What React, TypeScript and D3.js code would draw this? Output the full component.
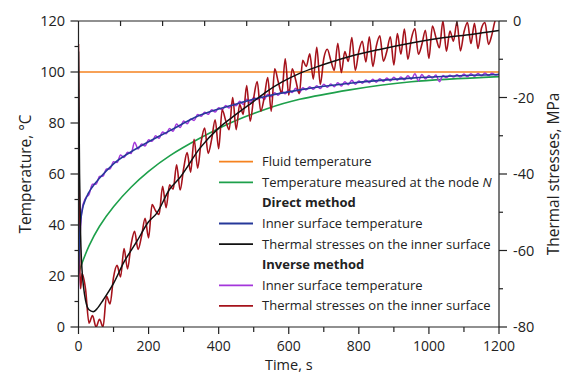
import React from "react";
import * as d3 from "d3";

// ---- data ----
const fluidTemp: [number, number][] = [[0, 100], [1200, 100]];

const nodeTemp: [number, number][] = [
  [0, 21], [10, 25], [30, 31.8], [60, 39.5], [100, 47.2], [150, 54.8], [200, 61], [261, 67.2],
  [346, 74], [441, 80.5], [536, 85.5], [631, 89.3], [774, 93], [950, 96.2], [1200, 98.2],
];

const directTemp: [number, number][] = [
  [0, 21], [3, 35], [9, 44.6], [23, 51], [40, 55], [61, 58.5], [100, 64], [166, 70], [261, 77],
  [346, 83], [441, 87.1], [536, 90.5], [631, 93], [774, 95.6], [950, 97.6], [1200, 99],
];

const directStress: [number, number][] = [
  [0, -8], [3, -40], [6, -56], [10, -65], [15, -70], [20, -73], [30, -75.5], [42, -76], [55, -75],
  [70, -73], [100, -68.6], [130, -63], [166, -57.7], [200, -52.5], [223, -50.3], [260, -44],
  [289, -41], [346, -33.3], [400, -28], [441, -25], [500, -21], [536, -18.5], [580, -16],
  [631, -13.7], [680, -12], [726, -10.6], [774, -9.3], [856, -7.5], [950, -5.75], [1045, -4.3],
  [1120, -3.5], [1200, -2.5],
];

const inverseStart: [number, number][] = [[0, 15], [3, 30]];
const inverseTempValues = [
  46, 50.5, 52, 56, 56, 59, 59.2, 62, 62, 64.8,
  64.5, 67.5, 66.5, 68.5, 68, 72.5, 69.8, 71.8, 71, 73.4,
  72.8, 75, 74, 76.5, 75.8, 77.8, 76.8, 79.6, 78.2, 80.8,
  79.7, 81.6, 81, 83.3, 82.6, 84.2, 83.4, 85.2, 84.3, 86,
  85.2, 86.9, 85.9, 87.8, 86.8, 88.5, 87.3, 89.3, 88, 90,
  89.2, 90.5, 89.2, 91.3, 90.3, 91.9, 90.9, 92.5, 91.5, 93,
  92, 93.6, 91.8, 93.8, 93, 94.2, 93.2, 94.6, 93.5, 95.2,
  94, 95.3, 94.2, 95.8, 94.5, 96.2, 95, 96.8, 95.2, 96.5,
  95.6, 96.9, 95.8, 97.2, 96, 97.4, 96.3, 97.6, 96.5, 97.9,
  96.8, 98, 97, 98.5, 97.2, 99.3, 96.5, 99, 97.3, 98.6,
  97.6, 98.8, 96.2, 98.6, 97.8, 98.7, 98, 98.9, 98, 99.2,
  98.1, 99.3, 98.3, 99.4, 98.5, 99.6, 98.6, 99.5, 98.8, 99.3,
];

const inverseStressStart: [number, number][] = [[0, -6], [3, -60], [6, -70]];
const inverseStressValues = [
  -66, -70, -79, -77, -80, -78, -80, -72, -74, -67,
  -63.9, -66.9, -59.5, -64.8, -58.5, -55, -59.7, -56.2, -51.6, -56.7,
  -48, -49.6, -50.6, -43.2, -48.8, -42.8, -44, -37.6, -44.2, -38.6,
  -34.4, -39.5, -30.9, -38.5, -31.6, -28, -34.6, -30.9, -25.8, -33.4,
  -23.2, -26, -28.4, -20, -28.4, -21.8, -24.4, -16.9, -26.2, -20.1,
  -15.8, -23.6, -20, -14.8, -23.6, -12.5, -15.9, -18.9, -9.9, -19.4,
  -12.5, -15.5, -19, -10.3, -11.9, -8.6, -15.2, -6.9, -16.6, -9.8,
  -7.4, -10.3, -12.9, -5.8, -13.5, -8, -10.6, -4.3, -12.9, -7.9,
  -5.3, -10.7, -4.1, -11.9, -6.5, -3.9, -10.5, -7.9, -4.1, -11.5,
  -3.3, -8.7, -2.1, -10, -4.6, -2, -8.7, -6.1, -2.4, -9.8,
  -1.3, -4.3, -7, 0, -7.9, -2.6, -5.3, -0.3, -7.8, -2.9,
  -0.4, -5.9, -0.6, -7.2, -1.9, -0.4, -6.1, -3.5, 0.2, 0.5,
];

const xTicks = [0, 200, 400, 600, 800, 1000, 1200];
const tempTicks = [0, 20, 40, 60, 80, 100, 120];
const stressTicks = [0, -20, -40, -60, -80];

const legendItems = [
  { label: "Fluid temperature", color: "#F5821F", bold: false },
  { label: "Temperature measured at the node ", italic: "N", color: "#1EA04B", bold: false },
  { label: "Direct method", color: null, bold: true },
  { label: "Inner surface temperature", color: "#26399A", bold: false },
  { label: "Thermal stresses on the inner surface", color: "#111111", bold: false },
  { label: "Inverse method", color: null, bold: true },
  { label: "Inner surface temperature", color: "#A436DB", bold: false },
  { label: "Thermal stresses on the inner surface", color: "#A5121B", bold: false },
];

// ---- layout ----
const W = 570, H = 374;
const L = 78.5, R = 499, T = 21, B = 327;
const FONT = "'Open Sans', 'Noto Sans', sans-serif";
const TXT = "#222";

export default function App() {
  const x = d3.scaleLinear().domain([0, 1200]).range([L, R]);
  const yT = d3.scaleLinear().domain([0, 120]).range([B, T]);
  const yS = d3.scaleLinear().domain([-80, 0]).range([B, T]);

  const lineT = d3.line<[number, number]>().x(d => x(d[0])).y(d => yT(d[1])).curve(d3.curveMonotoneX);
  const lineTN = d3.line<[number, number]>().x(d => x(d[0])).y(d => yT(d[1])).curve(d3.curveNatural);
  const lineS = d3.line<[number, number]>().x(d => x(d[0])).y(d => yS(d[1])).curve(d3.curveMonotoneX);
  const lineTL = d3.line<[number, number]>().x(d => x(d[0])).y(d => yT(d[1]));

  const invTemp: [number, number][] = [
    ...inverseStart,
    ...inverseTempValues.map((v, i) => [10 * (i + 1), v] as [number, number]),
  ];
  const invStress: [number, number][] = [
    ...inverseStressStart,
    ...inverseStressValues.map((v, i) => [10 * (i + 1), v] as [number, number]),
  ];

  const minorX = d3.range(100, 1200, 200);
  const topX = d3.range(120, 1200, 120);
  const minorT = d3.range(10, 120, 20);
  const minorS = d3.range(-10, -80, -20);

  const legX1 = 219, legX2 = 253, legTx = 262;
  const legY0 = 161.7, legDy = 20.6;

  return (
    <svg width={W} height={H} style={{ position: "absolute", left: 0, top: 0, background: "#fff" }}
      fontFamily={FONT}>
      <defs>
        <clipPath id="plot">
          <rect x={L} y={T} width={R - L} height={B - T} />
        </clipPath>
      </defs>
      <rect x={0} y={0} width={W} height={H} fill="#fff" />

      <g clipPath="url(#plot)" fill="none" strokeLinejoin="round">
        <path d={lineTL(fluidTemp) || ""} stroke="#F5821F" strokeWidth={1.6} />
        <path d={lineTN(nodeTemp) || ""} stroke="#1EA04B" strokeWidth={1.6} />
        <path d={lineT(invTemp) || ""} stroke="#A436DB" strokeWidth={1.5} />
        <path d={lineS(invStress) || ""} stroke="#A5121B" strokeWidth={1.6} />
        <path d={lineT(directTemp) || ""} stroke="#26399A" strokeWidth={1.6} />
        <path d={lineS(directStress) || ""} stroke="#111111" strokeWidth={1.5} />
      </g>

      {/* frame */}
      <g stroke="#222" strokeWidth={1.2} fill="none">
        <line x1={L} y1={T} x2={L} y2={B} />
        <line x1={R} y1={T} x2={R} y2={B} />
        <line x1={L} y1={B} x2={R} y2={B} />
        <line x1={L} y1={T} x2={R} y2={T} />
      </g>

      {/* ticks */}
      <g stroke="#222" strokeWidth={1.2}>
        {tempTicks.map(v => <line key={"lt" + v} x1={L - 8} x2={L} y1={yT(v)} y2={yT(v)} />)}
        {minorT.map(v => <line key={"lm" + v} x1={L - 4} x2={L} y1={yT(v)} y2={yT(v)} />)}
        {stressTicks.map(v => <line key={"rt" + v} x1={R} x2={R + 8} y1={yS(v)} y2={yS(v)} />)}
        {minorS.map(v => <line key={"rm" + v} x1={R} x2={R + 4} y1={yS(v)} y2={yS(v)} />)}
        {xTicks.map(v => <line key={"bt" + v} x1={x(v)} x2={x(v)} y1={B} y2={B + 7} />)}
        {minorX.map(v => <line key={"bm" + v} x1={x(v)} x2={x(v)} y1={B} y2={B + 5} />)}
        {topX.map(v => <line key={"tt" + v} x1={x(v)} x2={x(v)} y1={T} y2={T + 5} />)}
      </g>

      {/* tick labels */}
      <g fill={TXT} fontSize={14.5}>
        {tempTicks.map(v => (
          <text key={"ltl" + v} x={65} y={yT(v)} dy="0.36em" textAnchor="end">{v}</text>
        ))}
        {stressTicks.map(v => (
          <text key={"rtl" + v} x={513} y={yS(v)} dy="0.36em" textAnchor="start">{v}</text>
        ))}
        {xTicks.map(v => (
          <text key={"btl" + v} x={x(v)} y={351} fontSize={14} textAnchor="middle">{v}</text>
        ))}
      </g>

      {/* axis titles */}
      <g fill={TXT} fontSize={15.5}>
        <text transform={`translate(31,${(T + B) / 2}) rotate(-90)`} textAnchor="middle">Temperature, °C</text>
        <text transform={`translate(559,${(T + B) / 2}) rotate(-90)`} textAnchor="middle">Thermal stresses, MPa</text>
        <text x={(L + R) / 2} y={370} textAnchor="middle" fontSize={14.5}>Time, s</text>
      </g>

      {/* legend */}
      <g fontSize={13} fill={TXT}>
        {legendItems.map((it, i) => {
          const y = legY0 + i * legDy;
          return (
            <g key={"leg" + i}>
              {it.color && <line x1={legX1} x2={legX2} y1={y} y2={y} stroke={it.color} strokeWidth={1.8} />}
              <text x={legTx} y={y} dy="0.35em" fontWeight={it.bold ? "bold" : "normal"}>
                {it.label}
                {it.italic && <tspan fontStyle="italic">{it.italic}</tspan>}
              </text>
            </g>
          );
        })}
      </g>
    </svg>
  );
}
